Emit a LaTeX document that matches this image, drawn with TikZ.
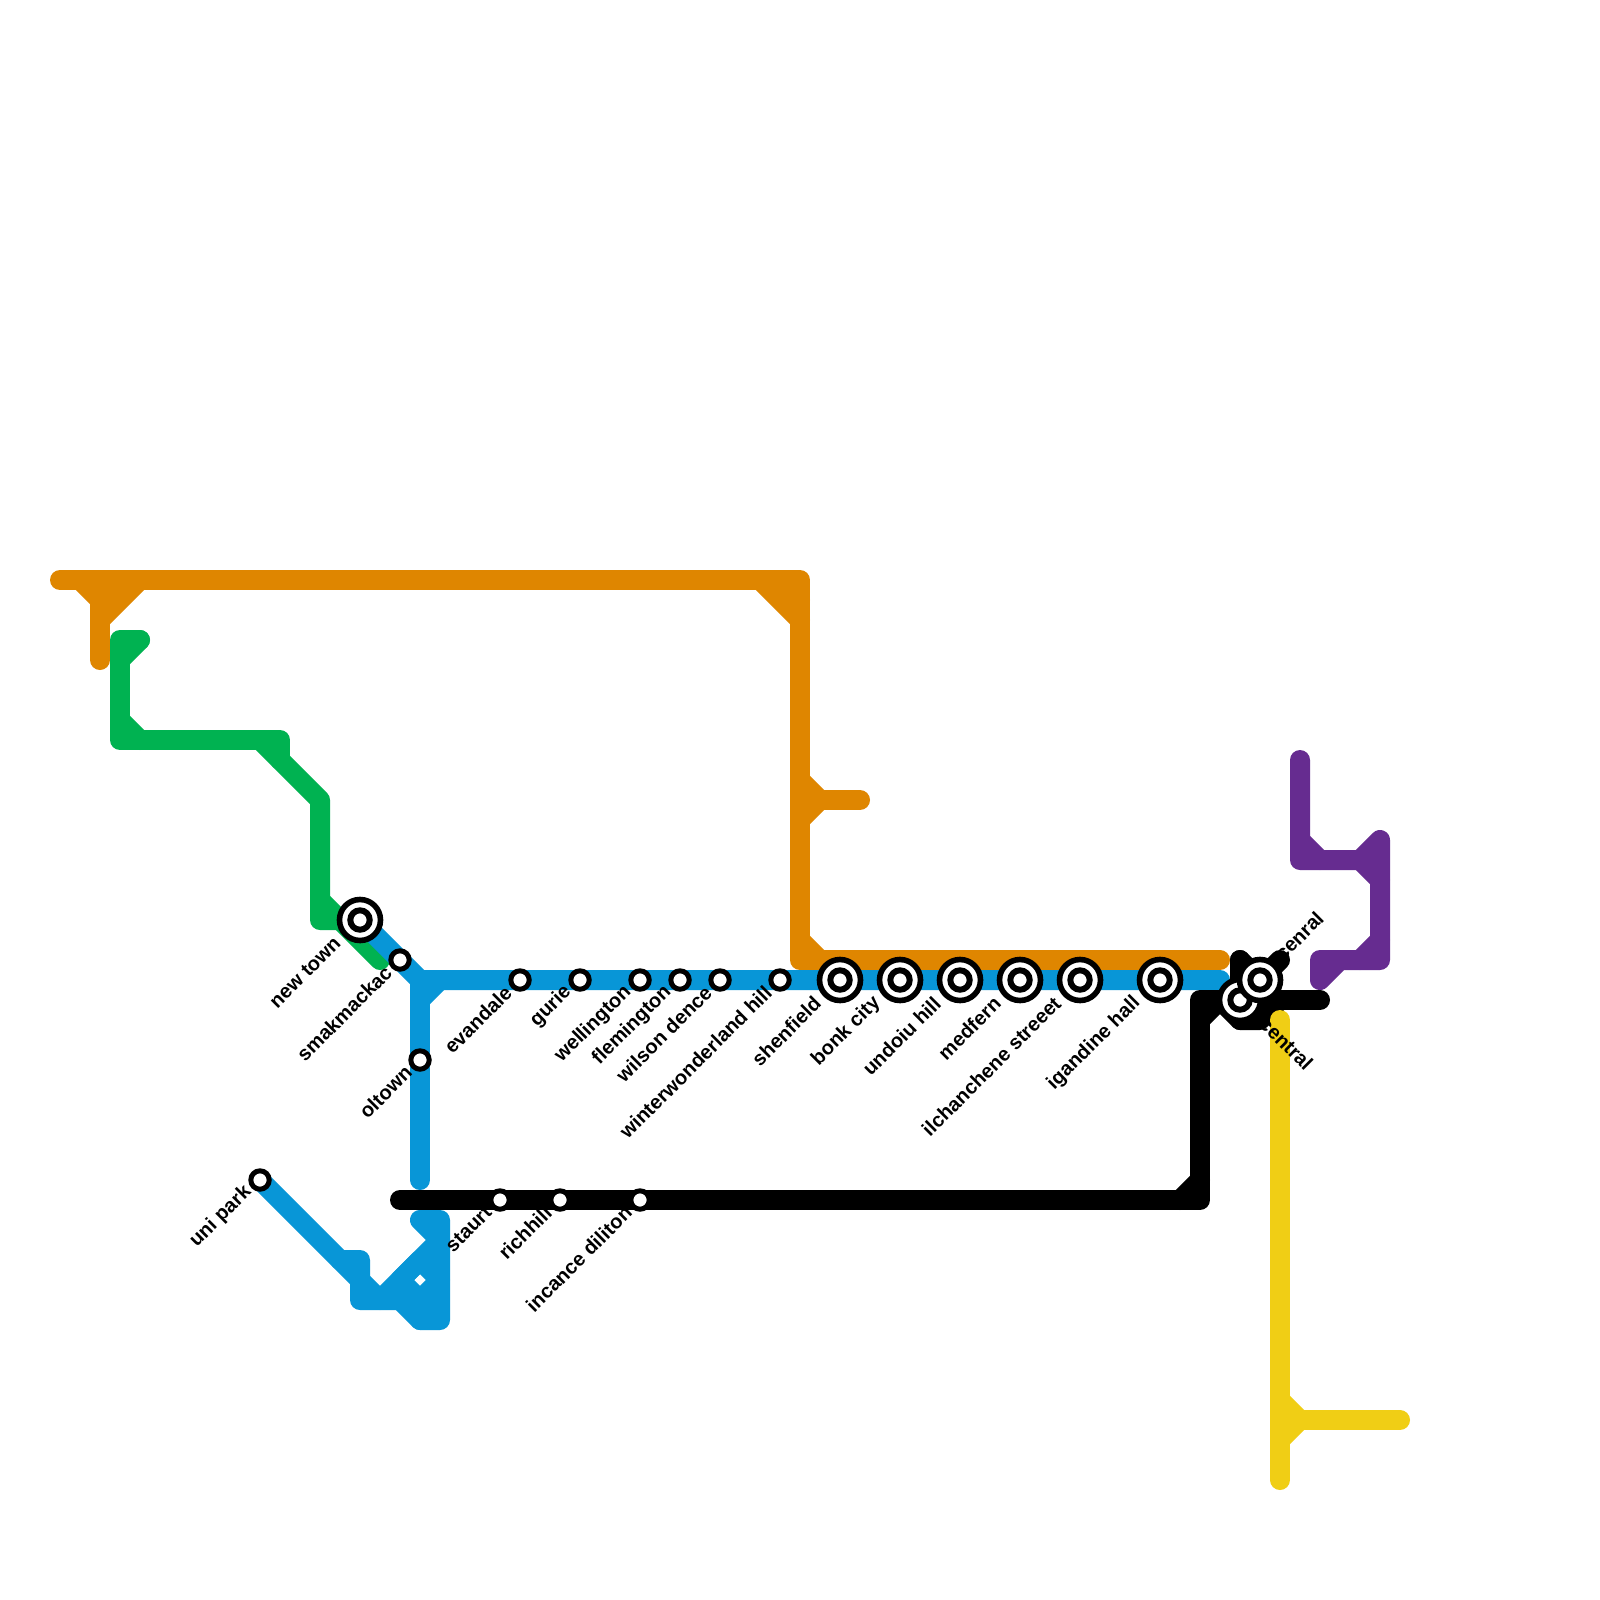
\documentclass[tikz,border=0pt]{standalone}
\usepackage{fontspec}
\setmainfont{Liberation Sans}
\usetikzlibrary{calc}
\definecolor{orangeln}{HTML}{DF8600}
\definecolor{greenln}{HTML}{00B251}
\definecolor{blueln}{HTML}{0896D7}
\definecolor{purpleln}{HTML}{662C90}
\definecolor{yellowln}{HTML}{F0CE15}
\tikzset{
  ln/.style={line width=10pt,line cap=round,line join=round},
  smallst/.style={draw=black,fill=white,line width=2.5pt},
  bigst/.style={draw=black,fill=white,line width=2.8pt},
  bigcore/.style={draw=black,fill=white,line width=3pt},
  lbl/.style={font=\fontsize{10}{10}\selectfont\bfseries,rotate=45,anchor=east,inner sep=0pt,text=black},
  lblr/.style={font=\fontsize{10}{10}\selectfont\bfseries,inner sep=0pt,text=black},
}
\newcommand{\smallstation}[4]{% name,x,y,label
  \coordinate (#1) at (#2,#3);
  \draw[smallst] (#1) circle [radius=4.6pt];
  \node[lbl] (#1l) at ($(#1)+(-11.5,9)$) {#4};
}
\newcommand{\bigstation}[4]{%
  \coordinate (#1) at (#2,#3);
  \draw[bigst] (#1) circle [radius=10.25pt];
  \draw[bigcore] (#1) circle [radius=4.85pt];
  \node[lbl] (#1l) at ($(#1)+(-22.5,20)$) {#4};
}
\begin{document}
\begin{tikzpicture}[x=0.5pt,y=-0.5pt]
\useasboundingbox (0,0) rectangle (1600,1600);
\fill[white] (0,0) rectangle (1600,1600);
% orange
\begin{scope}[ln,draw=orangeln]
\draw (60,580) -- (800,580) -- (800,960) -- (1220,960);
\draw (100,580) -- (100,660);
\draw (80,580) -- (100,600);
\draw (140,580) -- (100,620);
\draw (120,580) -- (100,600);
\draw (760,580) -- (800,620);
\draw (780,580) -- (800,600);
\draw (800,780) -- (820,800) -- (800,820);
\draw (800,800) -- (860,800);
\draw (800,940) -- (820,960);
\end{scope}
% green
\begin{scope}[ln,draw=greenln]
\draw (140,640) -- (120,640) -- (120,740) -- (280,740) -- (280,760);
\draw (140,640) -- (120,660);
\draw (120,720) -- (140,740);
\draw (260,740) -- (320,800) -- (320,920) -- (360,920);
\draw (320,900) -- (380,960);
\end{scope}
% blue
\begin{scope}[ln,draw=blueln]
\draw (360,920) -- (420,980) -- (1220,980);
\draw (420,980) -- (420,1180);
\draw (440,980) -- (420,1000);
\draw (260,1180) -- (360,1280);
\draw (340,1260) -- (360,1260) -- (360,1300) -- (420,1300) -- (420,1320) -- (440,1320) -- (440,1220) -- (420,1220) -- (440,1240) -- (380,1300);
\draw (360,1280) -- (380,1300);
\draw (400,1300) -- (420,1320);
\draw (420,1260) -- (440,1280) -- (420,1300) -- (400,1280) -- cycle;
\end{scope}
% black
\begin{scope}[ln,draw=black]
\draw (400,1200) -- (1200,1200) -- (1200,1000) -- (1320,1000);
\draw (1180,1200) -- (1200,1180);
\draw (1200,1020) -- (1220,1000);
\draw (1220,1000) -- (1240,1020) -- (1260,1020) -- (1280,1000);
\draw (1240,960) -- (1240,1020);
\draw (1240,960) -- (1260,980) -- (1280,960);
\end{scope}
% yellow
\begin{scope}[ln,draw=yellowln]
\draw (1280,1020) -- (1280,1480);
\draw (1280,1400) -- (1300,1420) -- (1280,1440);
\draw (1300,1420) -- (1400,1420);
\end{scope}
% purple
\begin{scope}[ln,draw=purpleln]
\draw (1300,760) -- (1300,860) -- (1360,860) -- (1380,840) -- (1380,960) -- (1320,960) -- (1320,980) -- (1340,960);
\draw (1300,840) -- (1320,860);
\draw (1360,860) -- (1380,880);
\draw (1360,960) -- (1380,940);
\end{scope}
% stations
\smallstation{unipark}{260}{1180}{uni park}
\bigstation{newtown}{360}{920}{new town}
\smallstation{smak}{400}{960}{smakmackac}
\smallstation{oltown}{420}{1060}{oltown}
\smallstation{evandale}{520}{980}{evandale}
\smallstation{gurie}{580}{980}{gurie}
\smallstation{wellington}{640}{980}{wellington}
\smallstation{flemington}{680}{980}{flemington}
\smallstation{wilson}{720}{980}{wilson dence}
\smallstation{winter}{780}{980}{winterwonderland hill}
\bigstation{shenfield}{840}{980}{shenfield}
\bigstation{bonk}{900}{980}{bonk city}
\bigstation{undoiu}{960}{980}{undoiu hill}
\bigstation{medfern}{1020}{980}{medfern}
\bigstation{ilch}{1080}{980}{ilchanchene streeet}
\bigstation{igandine}{1160}{980}{igandine hall}
\smallstation{staurt}{500}{1200}{staurt}
\smallstation{richhill}{560}{1200}{richhill}
\smallstation{incance}{640}{1200}{incance diliton}
\coordinate (centrala) at (1240,1000);
\draw[bigst] (centrala) circle [radius=10.25pt];
\draw[bigcore] (centrala) circle [radius=4.85pt];
\coordinate (centralb) at (1260,980);
\draw[bigst] (centralb) circle [radius=10.25pt];
\draw[bigcore] (centralb) circle [radius=4.85pt];
\node[lblr,rotate=-45,anchor=west] (centrall) at (1263,1020) {central};
\node[lblr,rotate=45,anchor=west] (cenrall) at (1278,957) {cenral};
\end{tikzpicture}
\end{document}
